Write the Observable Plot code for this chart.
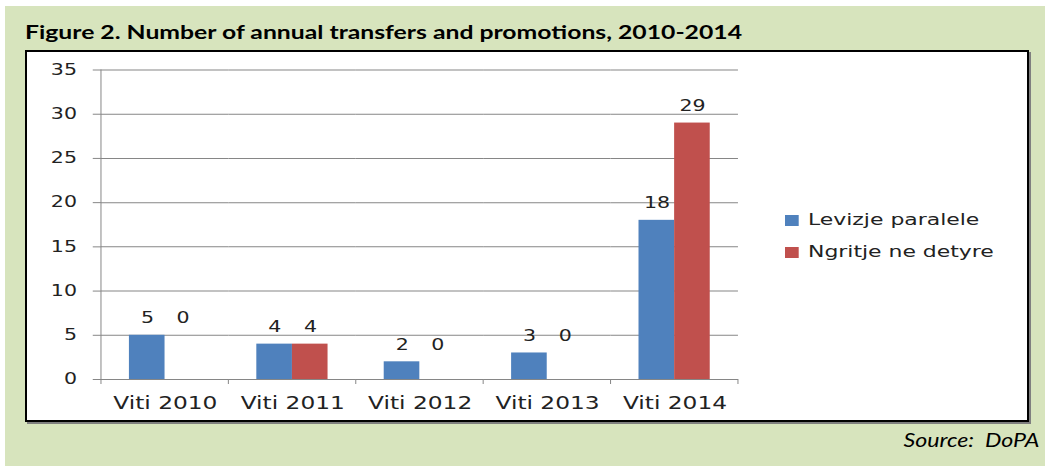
<!DOCTYPE html>
<html>
<head>
<meta charset="utf-8">
<script src="https://cdn.jsdelivr.net/npm/d3@7"></script>
<script src="https://cdn.jsdelivr.net/npm/@observablehq/plot@0.6"></script>
<style>
  html, body { margin: 0; padding: 0; }
  body { width: 1045px; height: 466px; overflow: hidden; position: relative; background: #ffffff; }
  #bg { position: absolute; left: 5px; top: 6px; width: 1040px; height: 460px; background: #d7e4bd; }
  #title { position: absolute; left: 25px; top: 23px; font: bold 18px/18px Lato, "Open Sans", sans-serif; color: #000; white-space: nowrap; transform-origin: left top; }
  #box { position: absolute; left: 25px; top: 50px; width: 1000px; height: 368px; border: 2px solid #000; background: #fff; box-shadow: 2px 2px 0 #7f7f7f; }
  #chart { position: absolute; left: 0; top: 0; width: 1000px; height: 368px; }
  #legend { position: absolute; left: 785px; top: 204px; transform-origin: left top; font: 16px/16px "DejaVu Sans", Verdana, sans-serif; color: #222; white-space: nowrap; }
  .row { display: flex; align-items: center; height: 32px; }
  .sw { width: 10.2px; height: 11px; margin-right: 6.6px; }
  #source { position: absolute; right: 6px; top: 429px; font: italic 20px/20px Lato, "Open Sans", sans-serif; color: #000; white-space: nowrap; transform-origin: right top; }
</style>
</head>
<body>
<div id="bg"></div>
<div id="title">Figure 2. Number of annual transfers and promotions, 2010-2014</div>
<div id="box"><div id="chart"></div></div>
<div id="legend"></div>
<div id="source">Source:&nbsp; DoPA</div>
<script>
// ---- data ----
const years = ["Viti 2010", "Viti 2011", "Viti 2012", "Viti 2013", "Viti 2014"];
const seriesNames = ["Levizje paralele", "Ngritje ne detyre"];
const levizje = [5, 4, 2, 3, 18];
const ngritje = [0, 4, 0, 0, 29];
const colors = ["#4f81bd", "#c0504d"];
const yTicks = [0, 5, 10, 15, 20, 25, 30, 35];

const rows = years.flatMap((yr, i) => [
  {year: yr, series: seriesNames[0], value: levizje[i], labelAt: levizje[i] || Math.max(levizje[i], ngritje[i])},
  {year: yr, series: seriesNames[1], value: ngritje[i], labelAt: ngritje[i] || Math.max(levizje[i], ngritje[i])}
]);

// horizontal stretch of the original figure
const S = 1000 / 730;
const W = 730, H = 368;
const ink = "#222222", gridColor = "#868686";

const chart = Plot.plot({
  width: W, height: H,
  marginLeft: 51.6, marginRight: 208.8, marginTop: 17.5, marginBottom: 41,
  style: {fontFamily: "DejaVu Sans, Verdana, sans-serif", fontSize: "15px", color: ink, background: "transparent", overflow: "visible"},
  fx: {domain: years, padding: 0, label: null},
  x: {domain: seriesNames, paddingInner: 0, paddingOuter: 0.7875, axis: null},
  y: {domain: [0, 35], axis: null},
  color: {domain: seriesNames, range: colors},
  marks: [
    Plot.gridY(yTicks, {stroke: gridColor, strokeOpacity: 1}),
    Plot.barY(rows, {fx: "year", x: "series", y: "value", fill: "series", inset: 0}),
    Plot.text(rows, {fx: "year", x: "series", y: "labelAt", text: d => String(d.value), dy: -17, fontSize: 15, fill: ink}),
    Plot.axisY(yTicks, {tickSize: 6, tickPadding: 12, stroke: gridColor, fill: ink, fontSize: 15, label: null}),
    Plot.axisFx({anchor: "bottom", tickSize: 0, tickPadding: 17, fontSize: 17, fill: ink, label: null})
  ]
});

// axis line and category boundary ticks from the plot's own scales
const fxs = chart.scale("fx"), ys = chart.scale("y");
const y0 = ys.apply(0), yTop = ys.apply(35);
const bounds = years.map(d => fxs.apply(d));
bounds.push(fxs.apply(years[years.length - 1]) + fxs.bandwidth);
const g = d3.select(chart).append("g").attr("stroke", gridColor).attr("stroke-width", 1);
g.append("line").attr("x1", bounds[0]).attr("x2", bounds[0]).attr("y1", yTop).attr("y2", y0 + 5)
  .attr("vector-effect", "non-scaling-stroke");
g.selectAll("line.b").data(bounds.slice(1)).join("line").attr("class", "b")
  .attr("x1", d => d).attr("x2", d => d).attr("y1", y0).attr("y2", y0 + 5)
  .attr("vector-effect", "non-scaling-stroke");

chart.setAttribute("preserveAspectRatio", "none");
chart.setAttribute("width", 1000);
chart.style.width = "1000px";
chart.style.height = "368px";
chart.style.maxWidth = "none";
document.getElementById("chart").appendChild(chart);

// legend
const leg = d3.select("#legend");
seriesNames.forEach((name, i) => {
  const r = leg.append("div").attr("class", "row");
  r.append("div").attr("class", "sw").style("background", colors[i]);
  r.append("span").text(name);
});
document.getElementById("legend").style.transform = `scaleX(${S})`;

// title & source widths as in the figure
const t = document.getElementById("title");
t.style.transform = `scaleX(${717 / t.getBoundingClientRect().width})`;
const s = document.getElementById("source");
s.style.transform = `scaleX(${136 / s.getBoundingClientRect().width})`;
</script>
</body>
</html>
